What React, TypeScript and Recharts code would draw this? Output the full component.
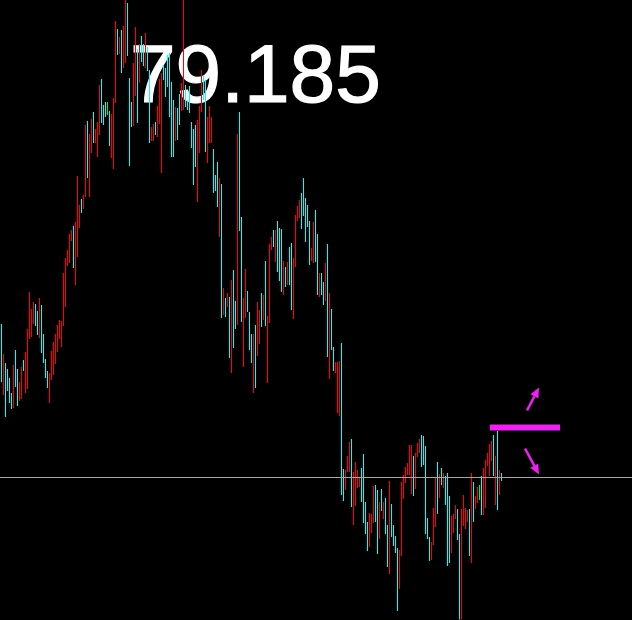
import { BarChart, Bar, XAxis, YAxis, Cell, ReferenceLine, ReferenceArea } from "recharts";

// bar highs / lows, one bar per 2px slot
const highs = [
  79.339, 79.309, 79.300, 79.294, 79.285, 79.270, 79.298, 79.313, 79.294, 79.281,
  79.296, 79.303, 79.311, 79.334, 79.371, 79.354, 79.361, 79.359, 79.352, 79.365,
  79.358, 79.329, 79.304, 79.292, 79.290, 79.312, 79.321, 79.329, 79.338, 79.343,
  79.342, 79.390, 79.405, 79.413, 79.429, 79.433, 79.437, 79.441, 79.487, 79.458,
  79.464, 79.468, 79.538, 79.542, 79.529, 79.544, 79.551, 79.534, 79.541, 79.578,
  79.584, 79.558, 79.561, 79.561, 79.552, 79.549, 79.565, 79.642, 79.634, 79.626,
  79.633, 79.637, 79.670, 79.660, 79.585, 79.561, 79.600, 79.636, 79.614, 79.619,
  79.627, 79.619, 79.630, 79.616, 79.593, 79.536, 79.539, 79.541, 79.557, 79.584,
  79.590, 79.598, 79.595, 79.608, 79.610, 79.581, 79.563, 79.556, 79.555, 79.569,
  79.580, 79.670, 79.578, 79.563, 79.577, 79.541, 79.534, 79.538, 79.543, 79.557,
  79.593, 79.588, 79.583, 79.546, 79.557, 79.546, 79.514, 79.488, 79.501, 79.485,
  79.479, 79.375, 79.365, 79.370, 79.366, 79.383, 79.393, 79.362, 79.529, 79.551,
  79.446, 79.365, 79.394, 79.372, 79.351, 79.329, 79.329, 79.338, 79.361, 79.353,
  79.370, 79.368, 79.402, 79.347, 79.419, 79.426, 79.433, 79.433, 79.442, 79.435,
  79.434, 79.402, 79.396, 79.401, 79.416, 79.420, 79.405, 79.448, 79.457, 79.463,
  79.470, 79.485, 79.465, 79.458, 79.442, 79.415, 79.441, 79.453, 79.429, 79.390,
  79.390, 79.381, 79.400, 79.419, 79.370, 79.354, 79.316, 79.301, 79.301, 79.302,
  79.320, 79.194, 79.193, 79.207, 79.221, 79.224, 79.191, 79.201, 79.193, 79.186,
  79.195, 79.209, 79.161, 79.141, 79.150, 79.149, 79.177, 79.178, 79.173, 79.161,
  79.174, 79.161, 79.165, 79.138, 79.182, 79.159, 79.138, 79.127, 79.115, 79.113,
  79.181, 79.188, 79.196, 79.200, 79.218, 79.218, 79.207, 79.210, 79.220, 79.224,
  79.228, 79.227, 79.217, 79.145, 79.126, 79.121, 79.155, 79.185, 79.201, 79.189,
  79.195, 79.190, 79.187, 79.190, 79.167, 79.147, 79.149, 79.158, 79.154, 79.129,
  79.154, 79.168, 79.155, 79.153, 79.154, 79.190, 79.181, 79.167, 79.176, 79.178,
  79.187, 79.195, 79.203, 79.210, 79.219, 79.222, 79.228, 79.207, 79.232, 79.193,
  79.190,
];

const lows = [
  79.281, 79.268, 79.246, 79.272, 79.260, 79.254, 79.255, 79.276, 79.257, 79.262,
  79.264, 79.292, 79.270, 79.274, 79.324, 79.326, 79.339, 79.337, 79.328, 79.325,
  79.310, 79.300, 79.285, 79.275, 79.260, 79.283, 79.288, 79.299, 79.311, 79.324,
  79.316, 79.337, 79.356, 79.397, 79.400, 79.422, 79.395, 79.378, 79.406, 79.435,
  79.450, 79.454, 79.466, 79.485, 79.466, 79.510, 79.520, 79.520, 79.506, 79.528,
  79.540, 79.538, 79.546, 79.548, 79.517, 79.505, 79.494, 79.560, 79.608, 79.609,
  79.590, 79.595, 79.600, 79.607, 79.497, 79.536, 79.537, 79.567, 79.540, 79.580,
  79.601, 79.597, 79.595, 79.592, 79.520, 79.522, 79.522, 79.528, 79.526, 79.539,
  79.490, 79.583, 79.566, 79.576, 79.546, 79.506, 79.506, 79.522, 79.523, 79.538,
  79.552, 79.553, 79.556, 79.553, 79.550, 79.515, 79.478, 79.496, 79.461, 79.510,
  79.551, 79.563, 79.511, 79.500, 79.520, 79.520, 79.470, 79.472, 79.456, 79.426,
  79.345, 79.348, 79.346, 79.356, 79.305, 79.290, 79.315, 79.334, 79.338, 79.432,
  79.341, 79.296, 79.345, 79.351, 79.313, 79.300, 79.270, 79.275, 79.307, 79.319,
  79.336, 79.343, 79.337, 79.280, 79.340, 79.413, 79.416, 79.401, 79.391, 79.382,
  79.371, 79.368, 79.376, 79.378, 79.378, 79.353, 79.344, 79.396, 79.442, 79.445,
  79.434, 79.447, 79.421, 79.436, 79.398, 79.402, 79.400, 79.401, 79.368, 79.366,
  79.368, 79.358, 79.362, 79.306, 79.284, 79.313, 79.292, 79.290, 79.250, 79.247,
  79.168, 79.162, 79.173, 79.191, 79.191, 79.156, 79.138, 79.157, 79.175, 79.176,
  79.161, 79.140, 79.129, 79.112, 79.116, 79.130, 79.140, 79.141, 79.109, 79.124,
  79.152, 79.144, 79.129, 79.096, 79.089, 79.126, 79.117, 79.110, 79.052, 79.074,
  79.107, 79.164, 79.180, 79.188, 79.188, 79.169, 79.167, 79.174, 79.206, 79.210,
  79.196, 79.198, 79.129, 79.124, 79.102, 79.103, 79.118, 79.136, 79.149, 79.165,
  79.178, 79.175, 79.158, 79.097, 79.100, 79.110, 79.130, 79.144, 79.123, 79.035,
  79.035, 79.137, 79.134, 79.141, 79.107, 79.100, 79.141, 79.154, 79.160, 79.163,
  79.148, 79.148, 79.155, 79.197, 79.187, 79.202, 79.187, 79.158, 79.153, 79.168,
  79.182,
];

// c = up bar (aqua), r = down bar (red), g = unchanged (lime)
const dirs =
  "crccccrccr" + "rcrrrrrccr" + "ccccrrrrrr" + "rrrrrrcrrr" + "crrcrrcrrr" +
  "cccgcrrrcr" + "crrcccrrcr" + "ccrccrrcrr" + "rccccccrcc" + "rrccccccrr" +
  "rccrrrcccr" + "crcrcrccrc" + "crrcccrcrr" + "crcrrrcrcc" + "crcrccrrrr" +
  "cccccrrccr" + "ccrcrccrrr" + "ccrrrcrrrr" + "ccccrrrccr" + "crccrccccr" +
  "rrrrrrcrrr" + "cccccrrrcr" + "crcccrrrcc" + "rrrrcrcrrg" + "crrrrrcrcrc";

const lastPrice = 79.185;
const levelLow = 79.232;
const levelHigh = 79.238;
const slots = 316;

const colors: Record<string, string> = { c: "#00ffff", r: "#ff0000", g: "#00ff00" };

const data = Array.from({ length: slots }, (_, i) =>
  i < highs.length
    ? { i, range: [lows[i], highs[i]], dir: dirs[i] }
    : { i, range: null, dir: "c" }
);

function Arrow(props: any) {
  const { x1, y1, x2, y2 } = props;
  const a = Math.atan2(y2 - y1, x2 - x1);
  const len = 10;
  const half = 4.5;
  const bx = x2 - len * Math.cos(a);
  const by = y2 - len * Math.sin(a);
  const px = -Math.sin(a) * half;
  const py = Math.cos(a) * half;
  return (
    <g>
      <line x1={x1} y1={y1} x2={bx} y2={by} stroke="#ee22ee" strokeWidth={2.5} />
      <polygon points={`${x2},${y2} ${bx + px},${by + py} ${bx - px},${by - py}`} fill="#ee22ee" />
    </g>
  );
}

export default function App() {
  return (
    <div style={{ position: "absolute", left: 0, top: 0, width: 632, height: 620, background: "#000", overflow: "hidden" }}>
      <svg width={632} height={620} style={{ position: "absolute", left: 0, top: 0 }}>
        <text
          x={130}
          y={102}
          fill="#fff"
          stroke="#fff"
          strokeWidth={1.2}
          fontSize={82}
          fontFamily="'Liberation Sans', Arial, sans-serif"
        >
          79.185
        </text>
      </svg>
      <div style={{ position: "absolute", left: 0, top: 0 }}>
        <BarChart
          width={632}
          height={620}
          data={data}
          margin={{ top: -0.5, right: 0, bottom: 0.5, left: 0 }}
          barCategoryGap={0}
        >
          <XAxis dataKey="i" type="category" hide />
          <YAxis hide domain={[79.043, 79.663]} allowDataOverflow />
          <ReferenceLine y={lastPrice} stroke="#a6a6a6" strokeWidth={1} />
          <Bar dataKey="range" barSize={1} isAnimationActive={false} shapeRendering="crispEdges">
            {data.map((d) => (
              <Cell key={d.i} fill={colors[d.dir]} />
            ))}
          </Bar>
          <ReferenceArea x1={245} x2={279} y1={levelLow} y2={levelHigh} fill="#ee22ee" fillOpacity={1} stroke="none" ifOverflow="visible" />
          <ReferenceLine
            segment={[{ x: 263, y: 79.252 }, { x: 269, y: 79.275 }]}
            shape={Arrow}
            ifOverflow="visible"
          />
          <ReferenceLine
            segment={[{ x: 262, y: 79.214 }, { x: 269, y: 79.188 }]}
            shape={Arrow}
            ifOverflow="visible"
          />
        </BarChart>
      </div>
    </div>
  );
}
